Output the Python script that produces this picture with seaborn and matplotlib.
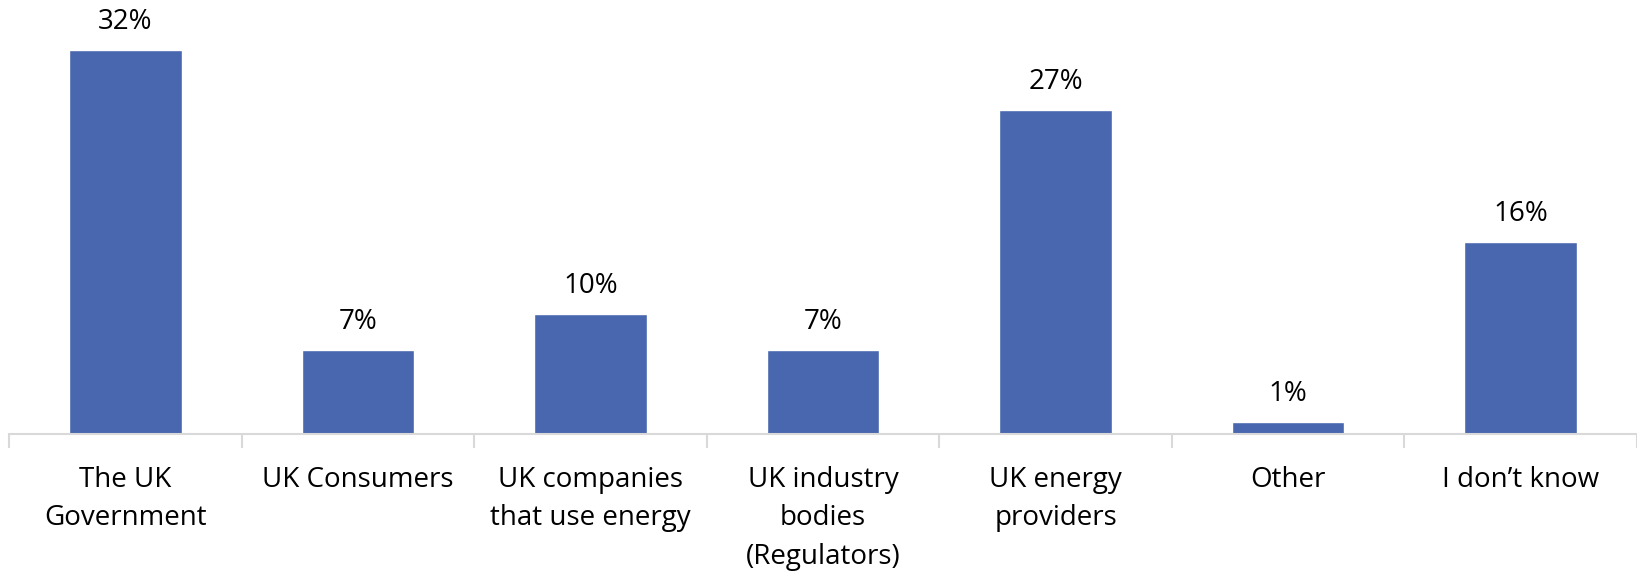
import matplotlib
matplotlib.use("Agg")
import matplotlib.pyplot as plt
import seaborn as sns
import pandas as pd
import numpy as np

categories = ["The UK\nGovernment", "UK Consumers", "UK companies\nthat use energy",
              "UK industry\nbodies\n(Regulators)", "UK energy\nproviders", "Other", "I don\u2019t know"]
values = [32, 7, 10, 7, 27, 1, 16]

df = pd.DataFrame({"cat": categories, "val": values})

sns.set_theme(style="white")
plt.rcParams['font.family'] = ['Open Sans', 'DejaVu Sans']

fig = plt.figure(figsize=(16.37, 5.71), dpi=100)
ax = fig.add_axes([0.0055, 0.24, 0.9945, 0.735])

sns.barplot(data=df, x="cat", y="val", color="#4967AE", saturation=1, width=0.484, ax=ax)

for i, v in enumerate(values):
    ax.annotate(f"{v}%", (i, v), xytext=(0, 10), textcoords="offset points",
                ha="center", va="bottom", fontsize=20, color="#000000")

ax.set_xlim(-0.5, 6.5)
ax.set_ylim(0, 35)
ax.set_xlabel("")
ax.set_ylabel("")
ax.set_yticks([])
for s in ["top", "right", "left"]:
    ax.spines[s].set_visible(False)
ax.spines["bottom"].set_color("#D9D9D9")
ax.spines["bottom"].set_linewidth(1.5)

ax.set_xticks(range(len(categories)))
ax.set_xticklabels(categories, fontsize=20, linespacing=1.5, va="top", color="#000000")
ax.tick_params(axis="x", which="major", bottom=True, length=0, pad=23)
ax.set_xticks(np.arange(-0.5, 7.0, 1.0), minor=True)
ax.tick_params(axis="x", which="minor", bottom=True, length=10, width=1.5, color="#D9D9D9")

fig.savefig("out.png", dpi=100)
